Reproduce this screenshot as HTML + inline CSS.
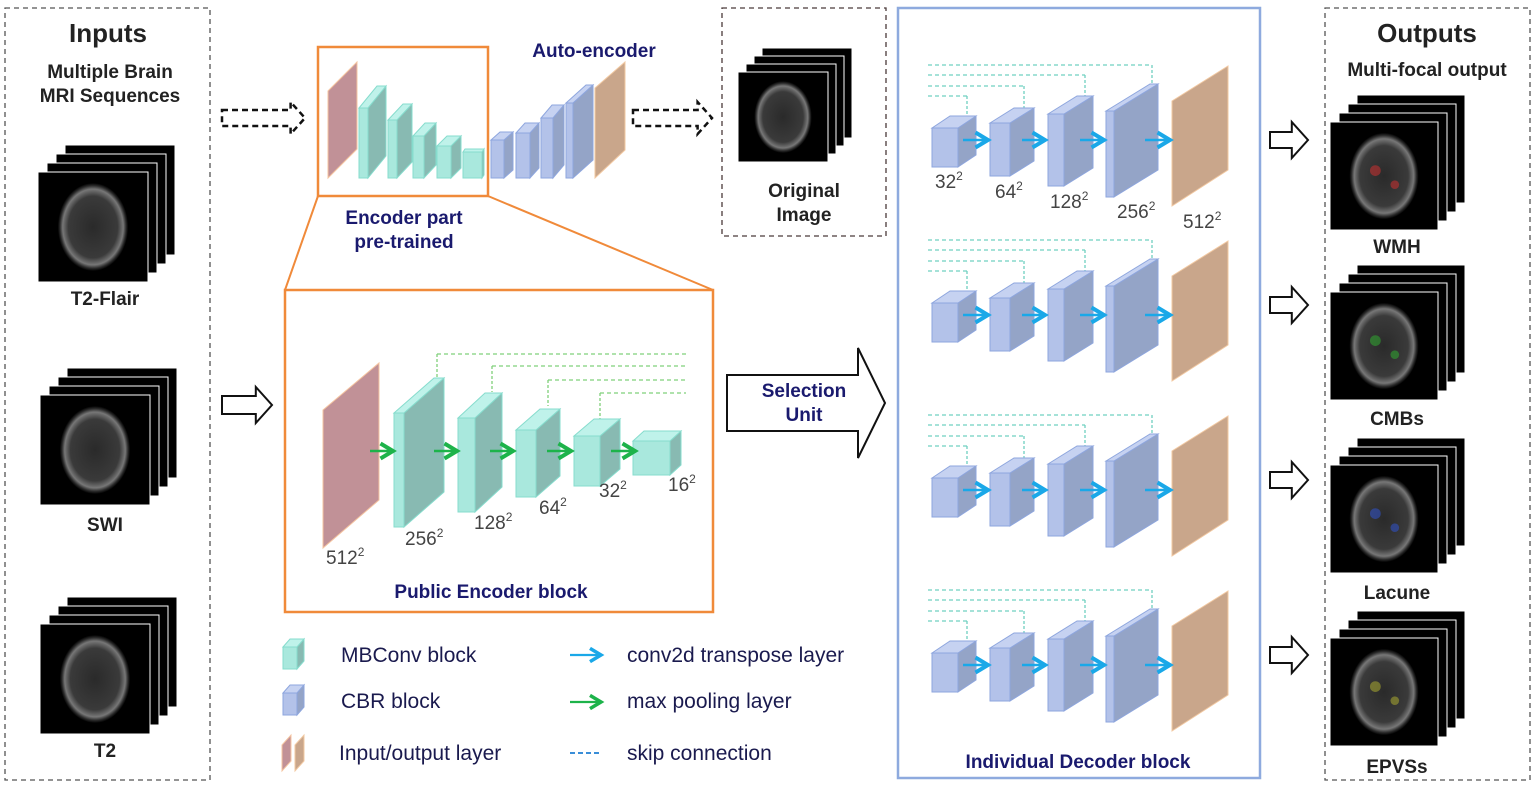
<!DOCTYPE html>
<html><head><meta charset="utf-8"><style>
html,body{margin:0;padding:0;background:#fff;}
svg{display:block;font-family:"Liberation Sans",sans-serif;}
.b{font-weight:bold;}
.nv{fill:#1a1a6e;font-weight:bold;}
.lg{fill:#1a1a4e;font-size:21px;}
.lb{fill:#444;font-size:19px;}
</style></head><body>
<svg id="s" width="1535" height="788" viewBox="0 0 1535 788" xmlns="http://www.w3.org/2000/svg">
<defs>
<radialGradient id="br" cx="50%" cy="50%" r="50%">
<stop offset="0" stop-color="#2a2a2a"/><stop offset="0.7" stop-color="#3a3a3a"/><stop offset="0.86" stop-color="#777"/><stop offset="0.94" stop-color="#2a2a2a"/><stop offset="1" stop-color="#000"/>
</radialGradient>
<marker id="ga" markerWidth="8" markerHeight="8" refX="6" refY="4" orient="auto"><path d="M1,1 L6,4 L1,7" fill="none" stroke="#1db34a" stroke-width="1.6"/></marker>
<marker id="ba" markerWidth="8" markerHeight="8" refX="6" refY="4" orient="auto"><path d="M1,1 L6,4 L1,7" fill="none" stroke="#1aa8e8" stroke-width="1.6"/></marker>
</defs>
<rect x="5" y="8" width="205" height="772" fill="none" stroke="#555" stroke-dasharray="5,4" stroke-width="1.3"/>
<rect x="1325" y="8" width="205" height="772" fill="none" stroke="#555" stroke-dasharray="5,4" stroke-width="1.3"/>
<rect x="722" y="8" width="164" height="228" fill="none" stroke="#4a3a3a" stroke-dasharray="5,4" stroke-width="1.3"/>
<rect x="898" y="8" width="362" height="770" fill="none" stroke="#8eaade" stroke-width="2.5"/>
<rect x="318" y="47" width="170" height="149" fill="none" stroke="#f08a3a" stroke-width="2.5"/>
<rect x="285" y="290" width="428" height="322" fill="none" stroke="#f08a3a" stroke-width="2.5"/>
<line x1="318" y1="196" x2="285" y2="290" stroke="#f08a3a" stroke-width="2"/>
<line x1="488" y1="196" x2="713" y2="290" stroke="#f08a3a" stroke-width="2"/>
<g id="g"></g>
<text x="108" y="42" text-anchor="middle" class="b" font-size="26" fill="#222">Inputs</text>
<text x="110" y="78" text-anchor="middle" class="b" font-size="19" fill="#222">Multiple Brain</text>
<text x="110" y="102" text-anchor="middle" class="b" font-size="19" fill="#222">MRI Sequences</text>
<text x="105" y="305" text-anchor="middle" class="b" font-size="19" fill="#222">T2-Flair</text>
<text x="105" y="531" text-anchor="middle" class="b" font-size="19" fill="#222">SWI</text>
<text x="105" y="757" text-anchor="middle" class="b" font-size="19" fill="#222">T2</text>
<text x="1427" y="42" text-anchor="middle" class="b" font-size="26" fill="#222">Outputs</text>
<text x="1427" y="76" text-anchor="middle" class="b" font-size="19" fill="#222">Multi-focal output</text>
<text x="1397" y="253" text-anchor="middle" class="b" font-size="19" fill="#222">WMH</text>
<text x="1397" y="425" text-anchor="middle" class="b" font-size="19" fill="#222">CMBs</text>
<text x="1397" y="599" text-anchor="middle" class="b" font-size="19" fill="#222">Lacune</text>
<text x="1397" y="773" text-anchor="middle" class="b" font-size="19" fill="#222">EPVSs</text>
<text x="804" y="197" text-anchor="middle" class="b" font-size="19" fill="#222">Original</text>
<text x="804" y="221" text-anchor="middle" class="b" font-size="19" fill="#222">Image</text>
<text x="594" y="57" text-anchor="middle" class="nv" font-size="19">Auto-encoder</text>
<text x="404" y="224" text-anchor="middle" class="nv" font-size="19">Encoder part</text>
<text x="404" y="248" text-anchor="middle" class="nv" font-size="19">pre-trained</text>
<text x="491" y="598" text-anchor="middle" class="nv" font-size="19">Public Encoder block</text>
<text x="1078" y="768" text-anchor="middle" class="nv" font-size="19">Individual Decoder block</text>
<text x="804" y="397" text-anchor="middle" class="nv" font-size="19">Selection</text>
<text x="804" y="421" text-anchor="middle" class="nv" font-size="19">Unit</text>
<text x="326" y="564" class="lb">512<tspan font-size="12" dy="-8">2</tspan></text>
<text x="405" y="545" class="lb">256<tspan font-size="12" dy="-8">2</tspan></text>
<text x="474" y="529" class="lb">128<tspan font-size="12" dy="-8">2</tspan></text>
<text x="539" y="514" class="lb">64<tspan font-size="12" dy="-8">2</tspan></text>
<text x="599" y="497" class="lb">32<tspan font-size="12" dy="-8">2</tspan></text>
<text x="668" y="491" class="lb">16<tspan font-size="12" dy="-8">2</tspan></text>
<text x="935" y="188" class="lb">32<tspan font-size="12" dy="-8">2</tspan></text>
<text x="995" y="198" class="lb">64<tspan font-size="12" dy="-8">2</tspan></text>
<text x="1050" y="208" class="lb">128<tspan font-size="12" dy="-8">2</tspan></text>
<text x="1117" y="218" class="lb">256<tspan font-size="12" dy="-8">2</tspan></text>
<text x="1183" y="228" class="lb">512<tspan font-size="12" dy="-8">2</tspan></text>
<text x="341" y="662" class="lg">MBConv block</text>
<text x="341" y="708" class="lg">CBR block</text>
<text x="339" y="760" class="lg">Input/output layer</text>
<text x="627" y="662" class="lg">conv2d transpose layer</text>
<text x="627" y="708" class="lg">max pooling layer</text>
<text x="627" y="760" class="lg">skip connection</text>
<line x1="570" y1="655" x2="601" y2="655" stroke="#1aa8e8" stroke-width="2.2" marker-end="url(#ba)"/>
<line x1="570" y1="702" x2="601" y2="702" stroke="#1db34a" stroke-width="2.2" marker-end="url(#ga)"/>
<line x1="570" y1="753" x2="602" y2="753" stroke="#3a8ed8" stroke-width="2" stroke-dasharray="5,3"/>
</svg>
<script>
var g=document.getElementById('g'),h='';
function P(pts,f,s){h+='<polygon points="'+pts.map(p=>p.join(',')).join(' ')+'" fill="'+f+'" stroke="'+(s||'none')+'" stroke-width="1"/>';}
function cube(x,y,w,hh,bx,ty,t){
 var c=t?['#a9e8dd','#88bab2','#bff2ea','#86dccd']:['#b3c2e9','#94a4c7','#c6d2f1','#8ea6de'];
 var dx=bx-(x+w);
 P([[x+w,y],[bx,ty],[bx,ty+hh],[x+w,y+hh]],c[1],c[3]);
 P([[x,y],[x+dx,ty],[bx,ty],[x+w,y]],c[2],c[3]);
 P([[x,y],[x+w,y],[x+w,y+hh],[x,y+hh]],c[0],c[3]);
}
function plane(x1,y1a,y1b,x2,y2a,y2b,out){P([[x1,y1a],[x2,y2a],[x2,y2b],[x1,y1b]],out?'#c9a68b':'#c19197',out?'#f2c9a2':'#f5c4a0');}
function L(x1,y1,x2,y2,c,w,d,m){h+='<line x1="'+x1+'" y1="'+y1+'" x2="'+x2+'" y2="'+y2+'" stroke="'+c+'" stroke-width="'+w+'"'+(d?' stroke-dasharray="'+d+'"':'')+(m?' marker-end="url(#'+m+')"':'')+'/>';}
plane(328,91,178,357,62,149);
cube(359,108,9,70,386,86,1);cube(388,120,9,58,412,104,1);cube(413,136,11,42,436,123,1);cube(437,146,14,32,461,136,1);cube(463,152,19,26,484,149,1);
cube(491,140,13,38,513,132,0);cube(516,133,14,45,539,123,0);cube(541,118,12,60,564,105,0);cube(566,103,7,75,593,85,0);
plane(595,88,178,625,62,150,1);
var sg='#7fd07a';
[[437,354],[492,366],[548,380],[600,393]].forEach(function(a){L(a[0],a[1],a[0],a[1]+26,sg,1.3,'3,2');L(a[0],a[1],686,a[1],sg,1.3,'4,3');});
plane(323,410,548,379,363,500);
cube(394,413,10,114,444,378,1);cube(458,418,17,94,502,393,1);cube(516,430,20,67,560,409,1);cube(574,436,26,50,620,419,1);cube(633,441,37,34,681,431,1);
[[370,393],[434,457],[490,513],[547,571],[611,635]].forEach(function(a){L(a[0],451,a[1],451,'#1db34a',2.5,0,'ga');});
[0,175,350,525].forEach(function(o){
 var sc='#6fd0c0';
 [[967,96],[1024,86],[1085,75],[1152,65]].forEach(function(a){L(a[0],a[1]+o,a[0],a[1]+o+24,sc,1.3,'3,2');L(928,a[1]+o,a[0],a[1]+o,sc,1.3,'4,3');});
 cube(932,128+o,26,39,976,116+o,0);cube(990,123+o,20,53,1034,108+o,0);cube(1048,114+o,16,72,1093,96+o,0);cube(1106,111+o,8,86,1158,84+o,0);
 plane(1172,101+o,206+o,1228,66+o,170+o,1);
 [[963,988],[1022,1045],[1080,1104],[1145,1170]].forEach(function(a){L(a[0],140+o,a[1],140+o,'#1aa8e8',2.5,0,'ba');});
});
cube(283,647,14,22,304,639,1);cube(283,693,14,22,304,685,0);
plane(282,745,771,291,735,761);plane(295,745,771,304,735,761,1);
function stack(x,y,s,n,off,tint){for(var i=n-1;i>=0;i--){var xx=x+i*off,yy=y-i*off;h+='<rect x="'+xx+'" y="'+yy+'" width="'+s+'" height="'+s+'" fill="#000" stroke="#fff" stroke-width="1"/>';if(i==0){h+='<ellipse cx="'+(xx+s/2)+'" cy="'+(yy+s/2)+'" rx="'+(s*0.32)+'" ry="'+(s*0.4)+'" fill="url(#br)"/>';if(tint){h+='<circle cx="'+(xx+s*0.42)+'" cy="'+(yy+s*0.45)+'" r="'+(s*0.05)+'" fill="'+tint+'" opacity="0.6"/><circle cx="'+(xx+s*0.6)+'" cy="'+(yy+s*0.58)+'" r="'+(s*0.04)+'" fill="'+tint+'" opacity="0.6"/>';}}}}
stack(38,172,110,4,9);stack(40,395,110,4,9);stack(40,624,110,4,9);
stack(738,72,90,4,8);
stack(1330,122,108,4,9,'#c03030');stack(1330,292,108,4,9,'#30a030');stack(1330,465,108,4,9,'#3050c0');stack(1330,638,108,4,9,'#a0a030');
function harrow(x1,x2,cy,sh,hh,dash){var hx=x2-(hh*0.9);h+='<polygon points="'+[[x1,cy-sh],[hx,cy-sh],[hx,cy-hh],[x2,cy],[hx,cy+hh],[hx,cy+sh],[x1,cy+sh]].map(p=>p.join(',')).join(' ')+'" fill="#fff" stroke="#111" stroke-width="'+(dash?2.5:2)+'"'+(dash?' stroke-dasharray="6,4"':'')+'/>';}
harrow(222,305,118,8,16,1);harrow(633,712,118,8,16,1);
harrow(222,272,405,9,18);
h+='<polygon points="727,375 858,375 858,348 885,403 858,458 858,431 727,431" fill="#fff" stroke="#111" stroke-width="2"/>';
[140,305,480,655].forEach(function(y){harrow(1270,1308,y,8,18);});
g.innerHTML=h;
</script>
</body></html>
